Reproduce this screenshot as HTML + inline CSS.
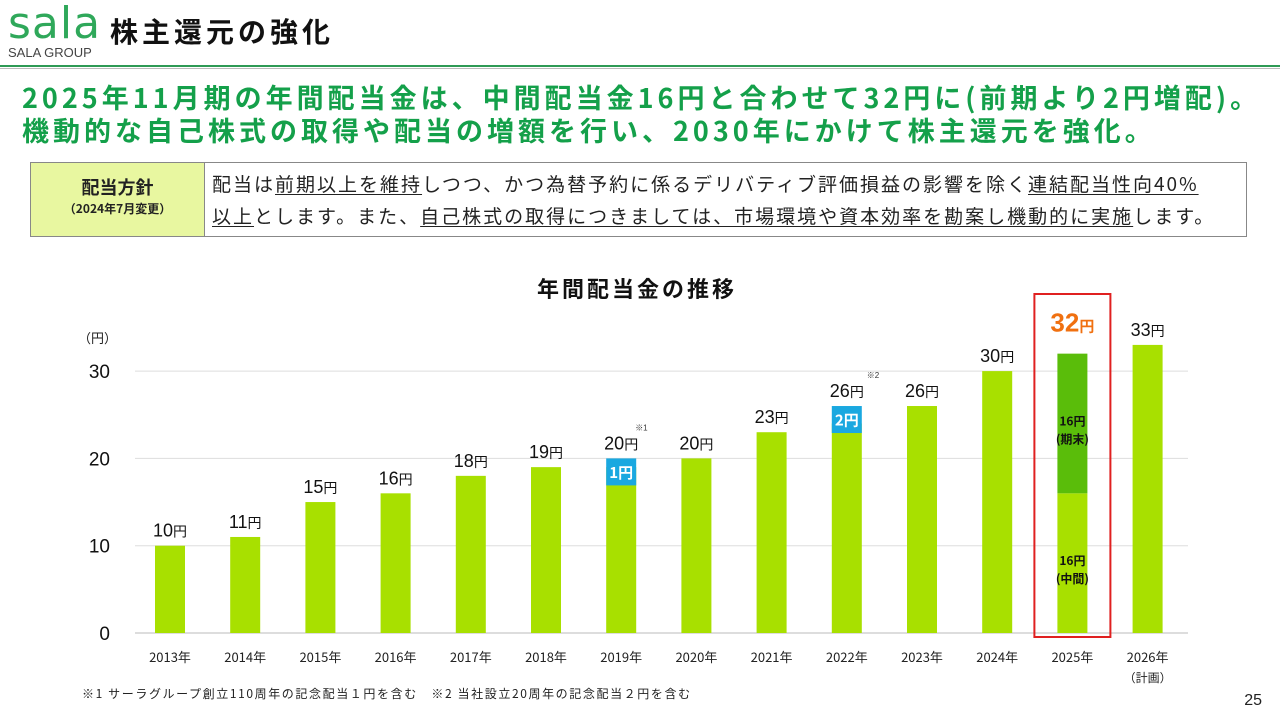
<!DOCTYPE html>
<html><head><meta charset="utf-8">
<style>
body{margin:0;width:1280px;height:720px;background:#fff;position:relative;overflow:hidden;font-family:"Liberation Sans","Noto Sans CJK JP",sans-serif}
.abs{position:absolute}
.jp{font-family:"Noto Sans CJK JP","Liberation Sans",sans-serif}
u{text-decoration:underline;text-underline-offset:3px}
</style></head><body>
<div class="abs" style="left:8px;top:0px;color:#2fa85a;font-size:44px;letter-spacing:1px;line-height:48px;font-family:'DejaVu Sans',sans-serif">sala</div>
<div class="abs" style="left:8px;top:45px;color:#444;font-size:13px">SALA GROUP</div>
<div class="abs jp" style="left:110px;top:11px;font-size:28px;font-weight:bold;color:#111;letter-spacing:4px">株主還元の強化</div>
<div class="abs" style="left:0;top:65px;width:1280px;height:2px;background:#2e9a55"></div>
<div class="abs" style="left:0;top:68px;width:1280px;height:1px;background:#bbb"></div>
<div class="abs jp" style="left:22px;top:80px;font-size:27px;font-weight:bold;color:#14a04a;line-height:33px;white-space:nowrap;letter-spacing:4px">2025年11月期の年間配当金は、中間配当金16円と合わせて32円に(前期より2円増配)。<br>機動的な自己株式の取得や配当の増額を行い、2030年にかけて株主還元を強化。</div>
<div class="abs" style="left:30px;top:162px;width:1217px;height:75px;border:1px solid #888;box-sizing:border-box"></div>
<div class="abs jp" style="left:31px;top:163px;width:173px;height:73px;background:#e8f7a0;border-right:1px solid #888;text-align:center;color:#222">
<div style="font-size:18px;font-weight:bold;margin-top:11px">配当方針</div><div style="font-size:12px;font-weight:bold">（2024年7月変更）</div></div>
<div class="abs jp" style="left:212px;top:168px;font-size:19px;color:#222;line-height:32px;white-space:nowrap;letter-spacing:2px">配当は<u>前期以上を維持</u>しつつ、かつ為替予約に係るデリバティブ評価損益の影響を除く<u>連結配当性向40%</u><br><u>以上</u>とします。また、<u>自己株式の取得につきましては、市場環境や資本効率を勘案し機動的に実施</u>します。</div>

<svg class="abs" style="left:0;top:0" width="1280" height="720" id="chart"></svg>
<script>
const years=["2013年","2014年","2015年","2016年","2017年","2018年","2019年","2020年","2021年","2022年","2023年","2024年","2025年","2026年"];
const baseValues=[10,11,15,16,18,19,19,20,23,24,26,30,16,33];
const extraValues=[0,0,0,0,0,0,1,0,0,2,0,0,16,0];
const totalLabels=["10","11","15","16","18","19","20","20","23","26","26","30","32","33"];
const yTicks=[0,10,20,30];
const NS="http://www.w3.org/2000/svg";
const svg=document.getElementById('chart');
const y=v=>633-v*8.73;
const x=i=>170+i*75.2;
const bw=30;
function mk(t,a,txt){const e=document.createElementNS(NS,t);for(const k in a)e.setAttribute(k,a[k]);if(txt!=null)e.textContent=txt;svg.appendChild(e);return e;}
yTicks.forEach(t=>{
 const l=mk('line',{x1:135,x2:1188,y1:y(t),y2:y(t),stroke:t==0?'#bbb':'#ddd','stroke-width':1});
 
 
 const tx=mk('text',{x:110,y:y(t)+7,'text-anchor':'end','font-size':19,fill:'#111'},t);
 
 
});
const yt=mk('text',{x:78,y:343,'font-size':13,fill:'#222','font-family':'Noto Sans CJK JP'},'（円）');


const ct=mk('text',{x:637,y:297,'text-anchor':'middle','font-size':22,'font-weight':'bold',fill:'#111','font-family':'Noto Sans CJK JP','letter-spacing':3},'年間配当金の推移');


years.forEach((yr,i)=>{
 const cx=x(i),b=baseValues[i],e=extraValues[i],tot=b+e;
 const is25=i===12;
 const r=mk('rect',{x:cx-bw/2,y:y(b),width:bw,height:y(0)-y(b),fill:'#a8e000'});
 
 
 if(e>0){
  const h=is25?(y(b)-y(tot)):Math.max(y(b)-y(tot),27);
  const r2=mk('rect',{x:cx-bw/2,y:y(tot),width:bw,height:h,fill:is25?'#5abd0a':'#1aa8e0'});
  
  
  if(!is25){
   const t=mk('text',{x:cx,y:y(tot)+h/2+6,'text-anchor':'middle','font-size':15,'font-weight':'bold',fill:'#fff','font-family':'Noto Sans CJK JP'},e+'円');
   
   
  }
 }
 const lbl=mk('text',{x:cx,y:is25?y(tot)-22:y(tot)-9,'text-anchor':'middle','font-size':is25?26:18,'font-weight':is25?'bold':'normal',fill:is25?'#f07010':'#111'},totalLabels[i]);
 const ts=document.createElementNS(NS,'tspan');ts.setAttribute('font-size',is25?15:14);ts.setAttribute('font-family','Noto Sans CJK JP');ts.textContent='円';lbl.appendChild(ts);
 
 
 const xl=mk('text',{x:cx,y:662,'text-anchor':'middle','font-size':13,fill:'#222','font-family':'Noto Sans CJK JP'},yr);
 
 
});
[[x(6)+14,y(20)-28,'※1'],[x(9)+20,y(26)-28,'※2']].forEach(n=>{
 const t=mk('text',{x:n[0],y:n[1],'font-size':8,fill:'#333'},n[2]);
 
 
});
[['16円',y(24)+2],['(期末)',y(24)+20],['16円',y(8)+2],['(中間)',y(8)+20]].forEach(n=>{
 const t=mk('text',{x:x(12),y:n[1],'text-anchor':'middle','font-size':12,'font-weight':'bold',fill:'#111','font-family':'Noto Sans CJK JP'},n[0]);
 
 
});
const hb=mk('rect',{x:x(12)-38,y:294,width:76,height:343,fill:'none',stroke:'#e02020','stroke-width':2});


const pl=mk('text',{x:x(13),y:682,'text-anchor':'middle','font-size':12,fill:'#222','font-family':'Noto Sans CJK JP'},'（計画）');


const fn=mk('text',{x:82,y:698,'font-size':12,fill:'#222','font-family':'Noto Sans CJK JP','letter-spacing':1.6},'※1 サーラグループ創立110周年の記念配当１円を含む　※2 当社設立20周年の記念配当２円を含む');


const pn=mk('text',{x:1262,y:705,'text-anchor':'end','font-size':16,fill:'#222'},'25');


</script>
</body></html>
